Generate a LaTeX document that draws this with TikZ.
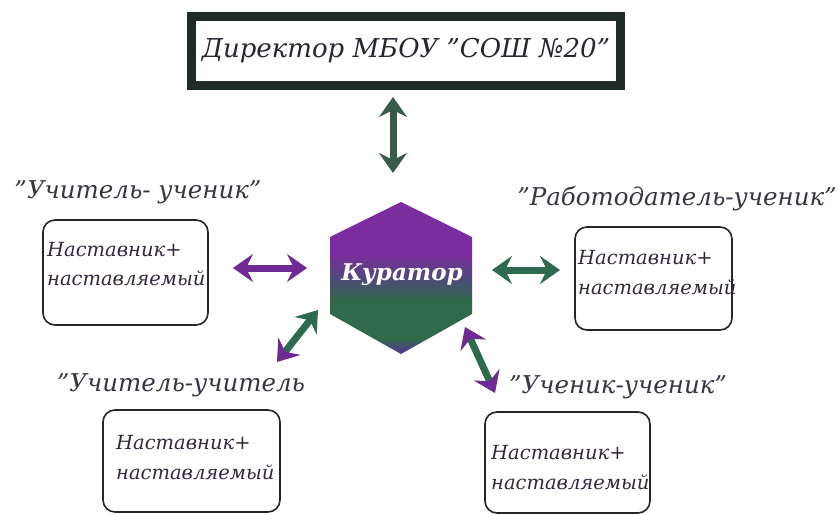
\documentclass[tikz,border=0pt]{standalone}
\usepackage{fontspec}
\setmainfont{DejaVu Serif}
\usetikzlibrary{arrows.meta}
\definecolor{framec}{HTML}{1F2B26}
\definecolor{titlec}{HTML}{2A2630}
\definecolor{labelc}{HTML}{3A3344}
\definecolor{boxtc}{HTML}{34283F}
\definecolor{agreen}{HTML}{2E6A4E}
\definecolor{apurple}{HTML}{6E2A92}
\definecolor{agray}{HTML}{3A5A4A}
\definecolor{hpu}{HTML}{7B2C9E}
\definecolor{hpb}{HTML}{5A2E9C}
\definecolor{hgr}{HTML}{2F6A4A}
\definecolor{hmix}{HTML}{4F4A78}
\pgfdeclareverticalshading{hexshade}{100bp}{color(0bp)=(hpb); color(25bp)=(hpb); color(30bp)=(hgr); color(42bp)=(hgr); color(50bp)=(hmix); color(58bp)=(hpu); color(75bp)=(hpu); color(100bp)=(hpu)}
\tikzset{
  rbox/.style={draw=black!85, line width=1.6pt, rounded corners=12pt, inner sep=0pt, fill=white},
  btext/.style={text=boxtc, font=\fontsize{19.5}{22}\selectfont\itshape, inner sep=0pt, anchor=west},
  lbl/.style={text=labelc, font=\fontsize{24.5}{28}\selectfont\itshape, inner sep=0pt},
  dbl/.style={line width=7pt, {Stealth[length=20pt,width=28pt,inset=7pt]}-{Stealth[length=20pt,width=28pt,inset=7pt]}},
}
\begin{document}
\begin{tikzpicture}[x=1pt,y=-1pt]
\path[use as bounding box, fill=white] (0,0) rectangle (838,514);

% top box
\node[draw=framec, line width=9pt, minimum width=429pt, minimum height=69pt, inner sep=0pt,
      text=titlec, font=\fontsize{26}{30}\selectfont\itshape] (dir) at (406,51) {Директор МБОУ "СОШ №20"};

% hexagon
\coordinate (h1) at (401,202);
\coordinate (h2) at (472,237);
\coordinate (h3) at (472,314);
\coordinate (h4) at (401,354);
\coordinate (h5) at (330,314);
\coordinate (h6) at (330,237);
\shade[shading=hexshade] (h1) -- (h2) -- (h3) -- (h4) -- (h5) -- (h6) -- cycle;
\node[text=white, font=\fontsize{23}{28}\selectfont\bfseries\itshape, inner sep=0pt] (cur) at (402,275) {Куратор};

% labels
\node[lbl] (lab1) at (138,192) {"Учитель- ученик"};
\node[lbl] (lab2) at (677,199) {"Работодатель-ученик"};
\node[lbl] (lab3) at (181,385) {"Учитель-учитель};
\node[lbl] (lab4) at (618,387) {"Ученик-ученик"};

% boxes
\node[rbox, minimum width=165pt, minimum height=105pt] (bL) at (125.5,272.5) {};
\node[rbox, minimum width=157pt, minimum height=103pt] (bR) at (653.5,278.5) {};
\node[rbox, minimum width=177pt, minimum height=102pt] (bLL) at (191.5,461) {};
\node[rbox, minimum width=165pt, minimum height=101pt] (bLR) at (567.5,462.5) {};

\node[btext] (tL1) at (47,250) {Наставник+};
\node[btext] (tL2) at (47,278) {наставляемый};
\node[btext] (tR1) at (578,258) {Наставник+};
\node[btext] (tR2) at (578,287) {наставляемый};
\node[btext] (tLL1) at (116,443) {Наставник+};
\node[btext] (tLL2) at (116,472) {наставляемый};
\node[btext] (tLR1) at (491,453) {Наставник+};
\node[btext] (tLR2) at (491,482) {наставляемый};

% arrow end points
\coordinate (aT1) at (393,97);
\coordinate (aT2) at (393,173);
\coordinate (aL1) at (233,268);
\coordinate (aL2) at (307,268);
\coordinate (aR1) at (492,270);
\coordinate (aR2) at (560,270);
\coordinate (aLL1) at (277,362);
\coordinate (aLL2) at (318,310);
\coordinate (aLR1) at (465,327);
\coordinate (aLR2) at (495,393);

\draw[dbl, agray] (aT1) -- (aT2);
\draw[dbl, apurple] (aL1) -- (aL2);
\draw[dbl, agreen] (aR1) -- (aR2);
\draw[line width=7pt, agreen, {Stealth[length=20pt,width=28pt,inset=7pt,color=apurple]}-{Stealth[length=20pt,width=28pt,inset=7pt]}] (aLL1) -- (aLL2);
\draw[line width=7pt, agreen, {Stealth[length=20pt,width=28pt,inset=7pt,color=apurple]}-{Stealth[length=20pt,width=28pt,inset=7pt,color=apurple]}] (aLR1) -- (aLR2);
\end{tikzpicture}
\end{document}
